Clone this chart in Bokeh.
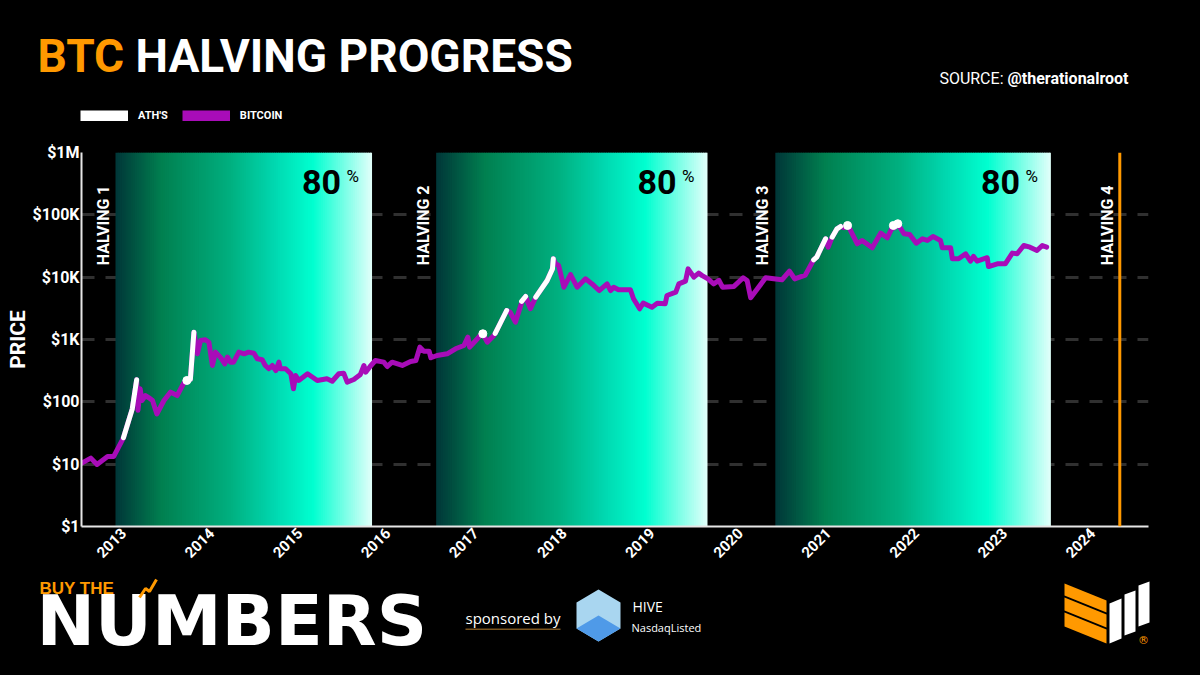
import math
from bokeh.plotting import figure
from bokeh.models import Range1d, FixedTicker, Span, Legend, LegendItem
from bokeh.core.properties import value
from bokeh.embed import file_html
from bokeh.resources import INLINE

# ---------------- data ----------------
halving_year = [2012.91, 2016.55, 2020.40, 2024.31]
halving_label = ["HALVING 1", "HALVING 2", "HALVING 3", "HALVING 4"]
progress_share = 0.80
progress_label = "80"
year_ticks = list(range(2013, 2025))
price_ticks = [1, 10, 100, 1000, 10000, 100000, 1000000]
price_tick_labels = ["$1", "$10", "$100", "$1K", "$10K", "$100K", "$1M"]

btc_year = [
    2012.51, 2012.63, 2012.70, 2012.82, 2012.89, 2013.00, 2013.10, 2013.15, 2013.165, 2013.19,
    2013.21, 2013.25, 2013.29, 2013.33, 2013.38, 2013.46, 2013.535, 2013.61, 2013.67, 2013.705,
    2013.76, 2013.80, 2013.84, 2013.875, 2013.93, 2013.97,
    2014.01, 2014.045, 2014.10, 2014.15, 2014.18, 2014.215, 2014.25, 2014.31, 2014.37, 2014.42,
    2014.48, 2014.52, 2014.575, 2014.61, 2014.65, 2014.69, 2014.73, 2014.765, 2014.78, 2014.84,
    2014.90, 2014.93, 2014.955, 2014.99,
    2015.09, 2015.20, 2015.31, 2015.37, 2015.445, 2015.50, 2015.54, 2015.615, 2015.69, 2015.73,
    2015.75, 2015.80, 2015.86, 2015.955, 2015.995,
    2016.05, 2016.165, 2016.26, 2016.32, 2016.365, 2016.41, 2016.47, 2016.49, 2016.56, 2016.675,
    2016.77, 2016.865, 2016.91, 2016.93,
    2017.00, 2017.05, 2017.08, 2017.13, 2017.205, 2017.22, 2017.35, 2017.39, 2017.45, 2017.51,
    2017.53, 2017.565, 2017.62, 2017.68, 2017.81, 2017.87, 2017.88, 2017.905, 2017.94,
    2018.00, 2018.075, 2018.15, 2018.245, 2018.32, 2018.40, 2018.49, 2018.53, 2018.565, 2018.62,
    2018.755, 2018.79, 2018.86, 2018.90,
    2019.00, 2019.06, 2019.15, 2019.17, 2019.27, 2019.305, 2019.38, 2019.41, 2019.475, 2019.53,
    2019.57, 2019.635, 2019.70, 2019.76, 2019.80, 2019.93,
    2020.035, 2020.08, 2020.12, 2020.29, 2020.475, 2020.56, 2020.62, 2020.74, 2020.835, 2020.87,
    2020.97,
    2021.00, 2021.045, 2021.10, 2021.14, 2021.18, 2021.22, 2021.25, 2021.33, 2021.385, 2021.50,
    2021.595, 2021.67, 2021.74, 2021.755, 2021.79, 2021.86, 2021.925,
    2022.00, 2022.07, 2022.125, 2022.19, 2022.275, 2022.295, 2022.39, 2022.41, 2022.48, 2022.56,
    2022.615, 2022.65, 2022.69, 2022.805, 2022.82, 2022.92,
    2023.01, 2023.09, 2023.145, 2023.22, 2023.29, 2023.37, 2023.43, 2023.48,
]
btc_price = [
    10.1, 12.5, 9.9, 13.3, 13.3, 26.5, 77, 226, 73, 162,
    105, 126, 116, 105, 64, 105, 143, 126, 183, 220,
    230, 1310, 590, 965, 990, 905,
    383, 627, 521, 407, 521, 433, 433, 627, 590, 627,
    603, 490, 473, 383, 339, 383, 318, 433, 339, 339,
    282, 162, 265, 220,
    282, 220, 234, 214, 282, 288, 207, 228, 275, 383,
    299, 369, 460, 433, 369,
    433, 383, 444, 460, 753, 649, 649, 509, 554, 590,
    710, 801, 1089, 753,
    965, 1159, 1236, 905, 1159, 1250, 2920, 2740, 1897, 3514,
    4227, 4900, 3110, 4775, 8850, 13600, 19700, 16400, 15400,
    6900, 11000, 6900, 9400, 7800, 6100, 7800, 6100, 6900, 6270,
    6270, 4500, 3110, 3830,
    3300, 3830, 3740, 5080, 5740, 7800, 8630, 13600, 10000, 11600,
    10600, 9400, 7800, 8850, 6900, 7100,
    9780, 8850, 4670, 9780, 9080, 12500, 9400, 10800, 19000, 21000,
    41300,
    30300, 43800, 59700, 65000, 62000, 67500, 57600, 34300, 38800, 29600,
    50800, 42800, 67500, 62000, 72000, 49700, 48400,
    35100, 41300, 38800, 45000, 38800, 29600, 29600, 19700, 19700, 23700,
    18100, 21500, 18100, 20500, 14800, 16400,
    16400, 24300, 23700, 32200, 30300, 26800, 32200, 30300,
]

NAN = float("nan")
ath_year = [2013.00, 2013.10, 2013.15, NAN, 2013.76, 2013.80, NAN,
            2017.22, 2017.35, NAN, 2017.52, 2017.565, NAN,
            2017.68, 2017.81, 2017.87, 2017.88, NAN,
            2020.835, 2020.87, 2020.97, NAN, 2021.045, 2021.10, 2021.14]
ath_price = [26.5, 77, 226, NAN, 230, 1310, NAN,
             1250, 2920, NAN, 4100, 4900, NAN,
             4775, 8850, 13600, 19700, NAN,
             19000, 21000, 41300, NAN, 43800, 59700, 65000]
ath_dot_year = [2013.72, 2017.08, 2021.22, 2021.74, 2021.79]
ath_dot_price = [220, 1236, 67500, 67500, 72000]

# ---------------- styling ----------------
FONT = "Roboto"
ORANGE = "#ff9900"
PURPLE = "#a80cb8"
W = 1200
HEAD_H, CHART_H, FOOT_H = 140, 435, 100
FRAME_L, FRAME_R = 81, 1148
FRAME_T, FRAME_B = 152, 526          # in page pixels
BLACK_BG = {"background-color": "black"}


def canvas_fig(height, y0):
    """A figure whose data coordinates equal page pixels (y grows downward)."""
    f = figure(width=W, height=height, output_backend="svg", toolbar_location=None,
               x_range=Range1d(0, W), y_range=Range1d(y0 + height, y0),
               x_axis_location=None, y_axis_location=None, min_border=0,
               styles=BLACK_BG)
    f.background_fill_color = "black"
    f.border_fill_color = "black"
    f.outline_line_color = None
    f.grid.visible = False
    return f


def txt(f, X, Y, text, size, color="white", font=FONT, style="bold", align="left"):
    f.text(x=[X], y=[Y], text=[text], text_font=value(font), text_font_style=style,
           text_font_size=size, text_color=color, text_align=align, text_baseline="middle")


# ---------------- header: title, source, legend ----------------
head = canvas_fig(HEAD_H, 0)
txt(head, 37, 55, "BTC", "46px", ORANGE)
txt(head, 135, 55, "HALVING PROGRESS", "46px")
txt(head, 1128, 78, "@therationalroot", "16px", align="right")
txt(head, 1003, 78, "SOURCE:", "16px", style="normal", align="right")

# legend swatches (kept outside the visible area; only their legend glyphs show)
sw_ath = head.line(x=[-30, -20], y=[-30, -30], line_color="white", line_width=11)
sw_btc = head.line(x=[-30, -20], y=[-30, -30], line_color=PURPLE, line_width=11)
legend = Legend(items=[LegendItem(label="ATH'S", renderers=[sw_ath]),
                       LegendItem(label="BITCOIN", renderers=[sw_btc])],
                location=(80, HEAD_H - 122), orientation="horizontal",
                glyph_width=48, glyph_height=11, label_height=11, label_standoff=10,
                spacing=14, padding=0, margin=0, border_line_color=None,
                background_fill_alpha=0, label_text_font=FONT,
                label_text_font_style="bold", label_text_font_size="11px",
                label_text_color="white")
head.add_layout(legend)

# ---------------- main chart ----------------
top_gap = FRAME_T - HEAD_H
chart = figure(width=W, height=CHART_H, output_backend="svg", toolbar_location=None,
               y_axis_type="log", x_range=Range1d(2012.524, 2024.636),
               y_range=Range1d(1, 1000000),
               min_border_left=FRAME_L, min_border_right=W - FRAME_R,
               min_border_top=top_gap,
               min_border_bottom=CHART_H - top_gap - (FRAME_B - FRAME_T),
               styles=BLACK_BG)
chart.background_fill_color = "black"
chart.border_fill_color = "black"
chart.outline_line_color = None

chart.xaxis.ticker = FixedTicker(ticks=year_ticks)
chart.xaxis.major_label_orientation = math.pi / 4
chart.xaxis.major_label_text_font = FONT
chart.xaxis.major_label_text_font_style = "bold"
chart.xaxis.major_label_text_font_size = "15px"
chart.xaxis.major_label_text_color = "white"
chart.xaxis.major_label_standoff = 4
chart.yaxis.ticker = FixedTicker(ticks=price_ticks)
chart.yaxis.major_label_overrides = {t: l for t, l in zip(price_ticks, price_tick_labels)}
chart.yaxis.major_label_text_font = FONT
chart.yaxis.major_label_text_font_style = "bold"
chart.yaxis.major_label_text_font_size = "16px"
chart.yaxis.major_label_text_color = "white"
chart.yaxis.major_label_standoff = 2
chart.yaxis.axis_label = "PRICE"
chart.yaxis.axis_label_text_font = FONT
chart.yaxis.axis_label_text_font_style = "bold"
chart.yaxis.axis_label_text_font_size = "21px"
chart.yaxis.axis_label_text_color = "white"
chart.yaxis.axis_label_standoff = 0
for ax in (chart.xaxis, chart.yaxis):
    ax.axis_line_color = "#e6e6e6"
    ax.axis_line_width = 2
    ax.major_tick_line_color = None
    ax.minor_tick_line_color = None
    ax.major_tick_out = 0
    ax.major_tick_in = 0
chart.xgrid.grid_line_color = None
chart.ygrid.ticker = FixedTicker(ticks=price_ticks)
chart.ygrid.grid_line_color = "#303030"
chart.ygrid.grid_line_width = 3
chart.ygrid.grid_line_dash = "13 11"
chart.ygrid.minor_grid_line_color = None

# gradient bands: from each halving to 80% of the way to the next one
stops = [(0.0, (0x00, 0x36, 0x38)), (0.18, (0x00, 0x80, 0x50)), (0.45, (0x00, 0xb0, 0x80)),
         (0.62, (0x00, 0xd8, 0xb0)), (0.77, (0x00, 0xff, 0xd0)), (1.0, (0xe2, 0xff, 0xfa))]


def grad(t):
    for (t0, c0), (t1, c1) in zip(stops[:-1], stops[1:]):
        if t <= t1:
            f = (t - t0) / (t1 - t0)
            return "#%02x%02x%02x" % tuple(int(round(a + (b - a) * f)) for a, b in zip(c0, c1))
    return "#%02x%02x%02x" % stops[-1][1]


band_end = []
L, R, C = [], [], []
n = 120
for h0, h1 in zip(halving_year[:-1], halving_year[1:]):
    e = h0 + progress_share * (h1 - h0)
    band_end.append(e)
    w = (e - h0) / n
    for i in range(n):
        L.append(h0 + i * w)
        R.append(min(e, h0 + (i + 1.6) * w))
        C.append(grad((i + 0.5) / n))
chart.quad(left=L, right=R, bottom=1, top=1000000, fill_color=C, line_color=None)

chart.line(btc_year, btc_price, line_color=PURPLE, line_width=5, line_join="round",
           line_cap="round")
chart.line(ath_year, ath_price, line_color="white", line_width=5, line_join="round",
           line_cap="round")
chart.scatter(ath_dot_year, ath_dot_price, size=8, color="white")

chart.add_layout(Span(location=halving_year[3], dimension="height", line_color=ORANGE,
                      line_width=3))

top_price = price_ticks[-1]
chart.text(x=halving_year, y=[top_price] * len(halving_year), text=halving_label,
           angle=math.pi / 2, x_offset=-3, y_offset=33, text_align="right",
           text_baseline="bottom", text_font=value(FONT), text_font_style="bold",
           text_font_size="16px", text_color="white")
chart.text(x=band_end, y=[top_price] * len(band_end), text=[progress_label] * len(band_end),
           x_offset=-31, y_offset=29.5, text_align="right", text_baseline="middle",
           text_font=value(FONT), text_font_style="bold", text_font_size="34px",
           text_color="black")
chart.text(x=band_end, y=[top_price] * len(band_end), text=["%"] * len(band_end),
           x_offset=-13, y_offset=23.5, text_align="right", text_baseline="middle",
           text_font=value(FONT), text_font_size="17px", text_color="black")

# ---------------- footer: branding ----------------
foot = canvas_fig(FOOT_H, HEAD_H + CHART_H)
txt(foot, 39, 587.5, "BUY THE", "17px", ORANGE, font="Liberation Sans")
txt(foot, 36, 620, "NUMBERS", "70px", font="DejaVu Sans")
txt(foot, 465, 617, "sponsored by", "15px", font="Open Sans", style="normal")
txt(foot, 632, 606, "HIVE", "14px", font="Open Sans", style="normal")
txt(foot, 631, 627, "NasdaqListed", "11px", font="Open Sans", style="normal")
txt(foot, 1143, 640, "®", "11px", ORANGE, font="DejaVu Sans", style="normal", align="center")

foot.line(x=[139, 145, 149, 156], y=[597, 588, 591, 579], line_color=ORANGE, line_width=3)

logo_shapes = [
    ([(465, 628), (560, 628), (560, 629.5), (465, 629.5)], "#7a5520"),
    ([(598, 589), (620, 602), (620, 628), (598, 641), (576, 628), (576, 602)], "#a9d6f0"),
    ([(598, 615), (620, 628), (598, 641), (576, 628)], "#4f9ae8"),
    ([(1064, 583), (1106, 600), (1106, 612), (1064, 595)], ORANGE),
    ([(1064, 597), (1106, 614), (1106, 627), (1064, 610)], ORANGE),
    ([(1064, 612), (1106, 629), (1106, 643), (1064, 626)], ORANGE),
    ([(1109, 603), (1121, 598), (1121, 638), (1109, 643)], "white"),
    ([(1124, 594), (1135, 590), (1135, 631), (1124, 635)], "white"),
    ([(1138, 585), (1149, 581), (1149, 622), (1138, 626)], "white"),
]
for pts, col in logo_shapes:
    foot.patch([a for a, b in pts], [b for a, b in pts], fill_color=col, line_color=None)

p = [head, chart, foot]
html = file_html(p, INLINE)
html = html.replace("<body>", '<body style="margin:0;background:black;">', 1)
open("out.html", "w").write(html)
